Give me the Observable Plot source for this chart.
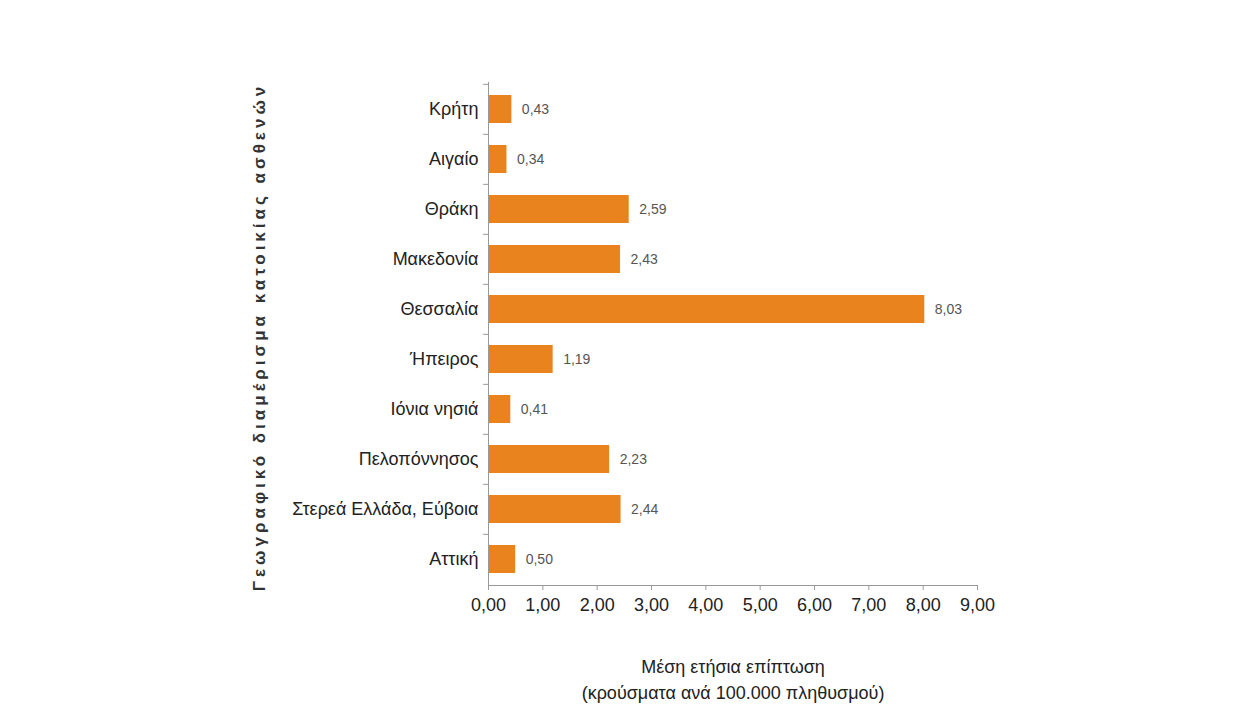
<!DOCTYPE html>
<html>
<head>
<meta charset="utf-8">
<script src="https://cdn.jsdelivr.net/npm/d3@7"></script>
<script src="https://cdn.jsdelivr.net/npm/@observablehq/plot@0.6"></script>
<style>
  html, body { margin: 0; padding: 0; background: #fff; }
  .ylab { letter-spacing: 4px; }
</style>
</head>
<body>
<div id="chart"></div>
<script>
const categories = ["Κρήτη", "Αιγαίο", "Θράκη", "Μακεδονία", "Θεσσαλία", "Ήπειρος", "Ιόνια νησιά", "Πελοπόννησος", "Στερεά Ελλάδα, Εύβοια", "Αττική"];
const values = [0.43, 0.34, 2.59, 2.43, 8.03, 1.19, 0.41, 2.23, 2.44, 0.50];
const xTicks = [0, 1, 2, 3, 4, 5, 6, 7, 8, 9];
const yTitle = "Γεωγραφικό διαμέρισμα κατοικίας ασθενών";
const xTitle1 = "Μέση ετήσια επίπτωση";
const xTitle2 = "(κρούσματα ανά 100.000 πληθυσμού)";

const data = categories.map((c, i) => ({c, v: values[i]}));
const fmt = v => v.toFixed(2).replace(".", ",");
const font = "'Liberation Sans', Arial, sans-serif";

const chart = Plot.plot({
  width: 1234,
  height: 709,
  marginLeft: 488,
  marginRight: 257,
  marginTop: 82,
  marginBottom: 124,
  style: {fontFamily: font, background: "#fff", color: "#222"},
  x: {domain: [0, 9]},
  y: {domain: categories, paddingInner: 0.45, paddingOuter: 0.225},
  marks: [
    Plot.barX(data, {x: "v", y: "c", fill: "#e8831d"}),
    Plot.text(data, {x: "v", y: "c", text: d => fmt(d.v), dx: 10, textAnchor: "start", fontSize: 14, fill: "#555"}),
    Plot.axisY({tickSize: 0, tickPadding: 10, fontSize: 18, label: null, fill: "#222"}),
    Plot.ruleY(categories, {y: d => d, x1: -0.09, x2: 0, dy: -25.15, stroke: "#999"}),
    Plot.axisX({ticks: xTicks, tickFormat: fmt, tickSize: 5, tickPadding: 8, fontSize: 18, label: null, stroke: "#999", fill: "#222"}),
    Plot.ruleX([0], {stroke: "#999"}),
    Plot.frame({anchor: "bottom", stroke: "#999"}),
    Plot.text([yTitle], {text: d => d, frameAnchor: "left", textAnchor: "middle", rotate: -90, dx: -229, dy: 3, fontSize: 17, fontWeight: "bold", fill: "#333", className: "ylab"}),
    Plot.text([xTitle1], {text: d => d, frameAnchor: "bottom", dy: 87, fontSize: 18, fill: "#222"}),
    Plot.text([xTitle2], {text: d => d, frameAnchor: "bottom", dy: 113, fontSize: 18, fill: "#222"})
  ]
});
document.getElementById("chart").appendChild(chart);
</script>
</body>
</html>
